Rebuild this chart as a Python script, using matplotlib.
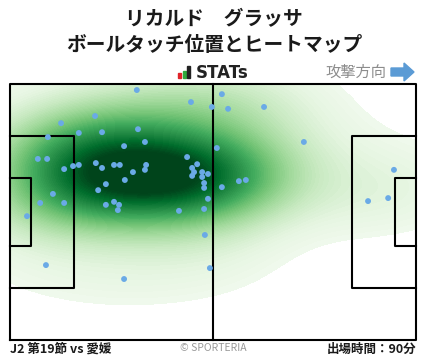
import matplotlib as mpl
import matplotlib.pyplot as plt
import numpy as np
from matplotlib.patches import Polygon, Rectangle

plt.rcParams["font.family"] = ["Noto Sans CJK JP", "DejaVu Sans"]

# %% Data (pitch metres, x towards attack, y from bottom touchline)

touch_x = [32.8, 46.8, 52.2, 13.2, 22.0, 17.8, 23.8, 33.1, 9.8, 34.9,
           29.5, 7.2, 9.6, 45.8, 48.4, 22.2, 17.8, 16.3, 26.9, 28.4,
           35.2, 23.8, 14.0, 34.9, 31.8, 47.1, 47.6, 49.7, 51.2, 47.1,
           49.7, 29.7, 50.2, 24.8, 50.2, 22.8, 11.1, 43.7, 51.2, 7.8,
           14.0, 26.9, 28.2, 24.8, 27.9, 50.2, 4.4, 54.8, 56.4, 65.7,
           76.0, 53.5, 59.2, 61.0, 54.8, 99.3, 97.8, 92.6, 50.4, 9.3,
           29.5, 51.7]
touch_y = [66.4, 63.2, 61.9, 57.6, 59.5, 55.0, 55.2, 56.0, 53.9, 52.6,
           51.5, 48.1, 48.1, 48.6, 46.7, 47.0, 46.5, 46.2, 46.5, 46.5,
           46.5, 45.7, 45.4, 45.2, 44.6, 45.7, 44.6, 44.6, 44.1, 43.6,
           43.3, 42.5, 41.7, 41.4, 40.4, 39.8, 38.8, 34.3, 37.5, 36.4,
           36.4, 36.7, 35.9, 35.9, 34.5, 34.8, 32.9, 65.3, 61.4, 61.9,
           52.6, 51.0, 42.2, 42.5, 40.6, 45.2, 37.7, 36.9, 27.9, 19.9,
           16.2, 19.1]

title_1 = "リカルド　グラッサ"
title_2 = "ボールタッチ位置とヒートマップ"
match_label = "J2 第19節 vs 愛媛"
minutes_label = "出場時間：90分"

pitch_len = 105
pitch_wid = 68

# %% Figure

W, H = 428, 359
fig = plt.figure(figsize=(W / 100, H / 100), dpi=100)


def fx(px):
    return px / W


def fy(py):
    return 1 - py / H


ax = fig.add_axes([fx(10), fy(340), (416 - 10) / W, (340 - 84) / H])
ax.set_xlim(0, pitch_len)
ax.set_ylim(0, pitch_wid)
ax.axis("off")

# heatmap: gaussian kde of touches (wide bandwidth)
bw_adjust = 1.5
pts = np.vstack([touch_x, touch_y])
n = pts.shape[1]
cov = np.cov(pts) * n ** (-1 / 3) * bw_adjust**2
inv = np.linalg.inv(cov)
gx, gy = np.meshgrid(np.linspace(0, pitch_len, 300), np.linspace(0, pitch_wid, 200))
d = np.stack([gx.ravel(), gy.ravel()])
dens = np.zeros(d.shape[1])
for i in range(n):
    diff = d - pts[:, i : i + 1]
    dens += np.exp(-0.5 * np.sum(diff * (inv @ diff), axis=0))
dens = dens.reshape(gx.shape)
dens /= dens.max()
ax.contourf(gx, gy, dens, levels=np.linspace(0.045, 1.0, 80), cmap="Greens",
            vmin=0.0, vmax=0.88, zorder=1)

ax.scatter(touch_x, touch_y, s=18, color="#6aaae6", edgecolors="none", zorder=3)

# pitch lines
lk = dict(color="black", lw=1.5, clip_on=False, zorder=2)
ax.plot([0, pitch_len, pitch_len, 0, 0], [0, 0, pitch_wid, pitch_wid, 0], **lk)
ax.plot([pitch_len / 2] * 2, [0, pitch_wid], **lk)
pa_w, pa_d = 40.3, 16.5
ga_w, ga_d = 18.3, 5.5
c = pitch_wid / 2
for x0, sgn in [(0, 1), (pitch_len, -1)]:
    ax.plot([x0, x0 + sgn * pa_d, x0 + sgn * pa_d, x0],
            [c - pa_w / 2, c - pa_w / 2, c + pa_w / 2, c + pa_w / 2], **lk)
    ax.plot([x0, x0 + sgn * ga_d, x0 + sgn * ga_d, x0],
            [c - ga_w / 2, c - ga_w / 2, c + ga_w / 2, c + ga_w / 2], **lk)

# %% Header / footer

fig.text(0.5, fy(20), title_1, ha="center", va="center", fontsize=14.2,
         fontweight="bold", color="#1a1a1a")
fig.text(0.5, fy(45), title_2, ha="center", va="center", fontsize=14.2,
         fontweight="bold", color="#1a1a1a")

# STATs logo
fig.add_artist(Rectangle((fx(178), fy(78)), 3 / W, 5 / H, transform=fig.transFigure, color="#e0242a"))
fig.add_artist(Rectangle((fx(182.5), fy(78)), 3 / W, 7 / H, transform=fig.transFigure, color="#2eaa3c"))
fig.add_artist(Rectangle((fx(187), fy(78)), 3 / W, 12 / H, transform=fig.transFigure, color="#222222"))
fig.text(fx(196), fy(72.5), "STATs", ha="left", va="center", fontsize=12,
         fontweight="bold", color="#222222", family="DejaVu Sans")

fig.text(fx(386), fy(72), "攻撃方向", ha="right", va="center", fontsize=11,
         color="#8c8c8c")
arrow_px = [(391, 68), (404, 68), (404, 63), (414, 72), (404, 81), (404, 76), (391, 76)]
fig.add_artist(Polygon([(fx(a), fy(b)) for a, b in arrow_px], closed=True,
                       transform=fig.transFigure, color="#5b9bd5"))

fig.text(fx(10), fy(349), match_label, ha="left", va="center", fontsize=9,
         fontweight="bold", color="#1a1a1a")
fig.text(fx(213), fy(348), "© SPORTERIA", ha="center", va="center", fontsize=7.5,
         color="#999999")
fig.text(fx(416), fy(349), minutes_label, ha="right", va="center", fontsize=9,
         fontweight="bold", color="#1a1a1a")

fig.savefig("out.png", dpi=100)
